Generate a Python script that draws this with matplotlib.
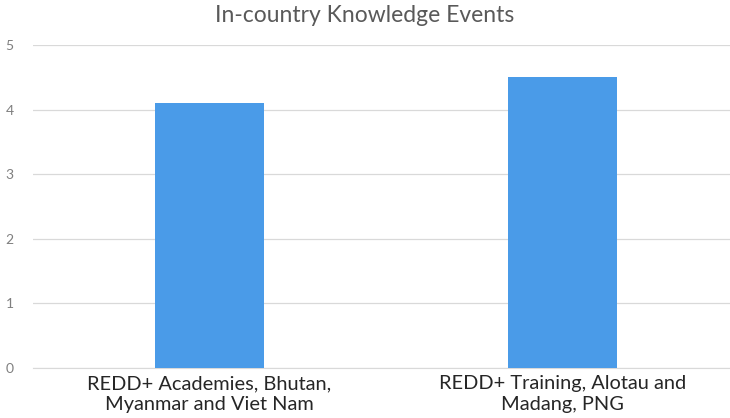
import matplotlib
matplotlib.use("Agg")
import matplotlib.pyplot as plt

# 数据
categories = ["REDD+ Academies, Bhutan,\nMyanmar and Viet Nam",
              "REDD+ Training, Alotau and\nMadang, PNG"]
values = [4.1, 4.5]
y_ticks = [0, 1, 2, 3, 4, 5]

BAR_COLOR = "#4A9BE8"
GRID_COLOR = "#D9D9D9"
TEXT_GRAY = "#595959"

plt.rcParams["font.family"] = ["Lato", "DejaVu Sans"]

fig = plt.figure(figsize=(7.30, 4.18), dpi=100)
ax = fig.add_axes([33 / 730, 50 / 418, 697 / 730, 323 / 418])

x = list(range(len(categories)))
ax.bar(x, values, width=0.31, color=BAR_COLOR, zorder=3)

ax.set_ylim(0, 5)
ax.set_yticks(y_ticks)
ax.set_xlim(-0.5, 1.474)
ax.set_xticks(x)
ax.set_xticklabels(categories, fontsize=14.4, color="#262626", linespacing=1.32)

ax.grid(axis="y", color=GRID_COLOR, lw=0.9, zorder=0)
for side in ["top", "right", "left"]:
    ax.spines[side].set_visible(False)
ax.spines["bottom"].set_color(GRID_COLOR)
ax.tick_params(axis="y", length=0, labelsize=10, labelcolor="#7F7F7F", pad=14)
ax.tick_params(axis="x", length=0, pad=5)

fig.text(0.5, 0.962, "In-country Knowledge Events", ha="center", va="center",
         fontsize=16.5, color=TEXT_GRAY)

fig.savefig("out.png", dpi=100, facecolor="white")
